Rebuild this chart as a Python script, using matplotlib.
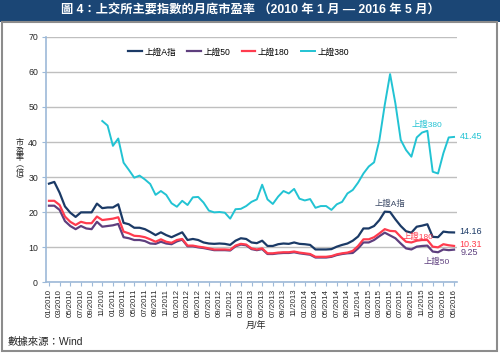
import numpy as np
import pandas as pd
import matplotlib
matplotlib.use('Agg')
import matplotlib.pyplot as plt
from matplotlib.patches import Rectangle

plt.rcParams['font.family'] = ['Liberation Sans', 'Noto Sans CJK TC', 'DejaVu Sans']

# --- DATA ---
months = pd.date_range('2010-01-01', '2016-05-01', freq='MS')
month_labels = list(months.strftime('%m/%Y'))

sh_a = [28.1, 28.6, 25.5, 21.6, 19.8, 18.6, 19.9, 19.9, 19.9, 22.4,
        21.1, 21.3, 21.3, 22.2, 16.9, 16.5, 15.5, 15.5, 15.1, 14.3,
        13.4, 14.2, 13.4, 12.8, 13.5, 14.2, 12.0, 12.3, 12.0, 11.3,
        11.0, 10.9, 11.0, 10.9, 10.6, 11.8, 12.5, 12.3, 11.3, 11.1,
        11.8, 10.3, 10.3, 10.8, 11.0, 10.9, 11.3, 10.9, 10.8, 10.6,
        9.3, 9.3, 9.3, 9.4, 10.1, 10.6, 11.0, 11.8, 13.0, 15.3,
        15.3, 16.0, 17.7, 20.1, 20.0, 17.9, 16.0, 14.5, 14.1, 15.8,
        16.1, 16.5, 12.9, 12.8, 14.4, 14.2, 14.16]

sh_50 = [21.8, 21.8, 20.6, 17.4, 16.0, 15.1, 16.0, 15.3, 15.1, 17.2,
         15.8, 16.0, 16.2, 16.6, 12.8, 12.5, 12.0, 12.0, 11.7, 11.0,
         10.9, 11.5, 11.0, 10.8, 11.6, 12.1, 10.2, 10.2, 9.9, 9.7,
         9.4, 9.1, 9.1, 9.1, 9.0, 10.2, 10.7, 10.5, 9.4, 9.1,
         9.4, 8.0, 8.0, 8.2, 8.3, 8.3, 8.5, 8.2, 8.0, 7.8,
         7.0, 7.0, 7.0, 7.2, 7.7, 8.0, 8.2, 8.3, 9.6, 11.3,
         11.3, 12.0, 13.1, 14.1, 13.3, 12.5, 11.0, 9.6, 9.3, 10.1,
         10.3, 10.4, 8.7, 8.5, 9.3, 9.1, 9.25]

sh_180 = [23.2, 23.2, 22.0, 18.7, 17.2, 16.3, 17.2, 16.8, 16.8, 18.7,
          17.7, 17.9, 18.1, 18.5, 14.4, 13.9, 13.2, 13.1, 12.8, 12.2,
          11.5, 12.2, 11.5, 11.2, 12.0, 12.3, 10.4, 10.4, 10.1, 9.9,
          9.6, 9.3, 9.3, 9.3, 9.2, 10.4, 10.9, 10.7, 9.6, 9.3,
          9.6, 8.2, 8.2, 8.4, 8.5, 8.5, 8.7, 8.4, 8.2, 8.0,
          7.2, 7.2, 7.2, 7.4, 7.9, 8.2, 8.4, 8.9, 10.3, 12.2,
          12.2, 12.8, 13.9, 15.1, 14.6, 14.5, 12.9, 11.5, 11.3, 11.8,
          12.0, 12.0, 10.1, 9.9, 10.8, 10.5, 10.31]

# 上證380 starts 11/2010
sh_380 = [46.0, 44.7, 38.9, 41.0, 34.1, 32.0, 29.8, 30.4, 29.3, 28.0,
          24.9, 26.0, 24.9, 22.5, 21.5, 23.2, 22.0, 24.2, 24.3, 22.7,
          20.4, 19.9, 20.0, 19.8, 18.1, 20.8, 20.9, 21.7, 22.9, 23.6,
          27.8, 23.6, 22.3, 24.4, 26.0, 25.3, 26.6, 23.8, 23.3, 23.7,
          21.2, 21.7, 21.7, 20.6, 22.2, 22.9, 25.3, 26.3, 28.4, 31.0,
          33.0, 34.2, 40.6, 50.6, 59.4, 51.0, 40.6, 37.7, 35.8, 41.3,
          42.7, 43.2, 31.5, 31.0, 36.8, 41.3, 41.45]

names = ['上證A指', '上證50', '上證180', '上證380']
colors = ['#1B3A66', '#5E3F7E', '#FF3B4E', '#22C3D3']

x = np.arange(len(month_labels))
x380 = x[len(x) - len(sh_380):]

# --- PLOT ---
fig = plt.figure(figsize=(5, 3.53), dpi=100)

# title banner and frame
fig.patches.append(Rectangle((0, 1 - 22 / 353), 1, 22 / 353, transform=fig.transFigure,
                             facecolor='#1B4675', edgecolor='none', zorder=0))
fig.patches.append(Rectangle((0.004, 0.006), 0.99, 1 - 22 / 353 - 0.006, transform=fig.transFigure,
                             facecolor='none', edgecolor='#8C8C8C', lw=1.5, zorder=0))
fig.text(0.5, 1 - 11 / 353, '圖 4：上交所主要指數的月底市盈率 （2010 年 1 月 — 2016 年 5 月）',
         color='white', fontsize=8.8, fontweight='bold', ha='center', va='center')

ax = fig.add_axes([0.0926, 0.2011, 0.8208, 0.6941])
ax.plot(x, sh_a, color=colors[0], lw=1.6, label=names[0])
ax.plot(x, sh_50, color=colors[1], lw=1.6, label=names[1])
ax.plot(x, sh_180, color=colors[2], lw=1.6, label=names[2])
ax.plot(x380, sh_380, color=colors[3], lw=1.4, label=names[3])

ax.set_xlim(-0.5, len(x) - 0.5)
ax.set_ylim(0, 70)
ax.set_yticks(range(0, 71, 10))
ax.set_xticks(x[::2])
ax.set_xticklabels(month_labels[::2], rotation=90, fontsize=5.6, color='#262626')
ax.tick_params(axis='y', labelsize=6.3, length=3, color='#9DB9D8', pad=3, labelcolor='#262626')
ax.tick_params(axis='x', length=3, color='#9DB9D8', pad=2)
ax.grid(axis='y', color='#BFBFBF', lw=1)
ax.set_axisbelow(True)
for s in ['top', 'right']:
    ax.spines[s].set_visible(False)
for s in ['left', 'bottom']:
    ax.spines[s].set_color('#9DB9D8')
    ax.spines[s].set_linewidth(1.2)

ax.legend(loc='center', bbox_to_anchor=(0.468, 0.939), ncol=4, frameon=False,
          fontsize=6.2, handlelength=1.6, handletextpad=0.3, columnspacing=1.3)

# end labels
ax.text(70.9, 44.9, '上證380', color=colors[3], fontsize=6, ha='center', va='center')
ax.text(77.0, sh_380[-1], f'{sh_380[-1]:.2f}', color=colors[3], fontsize=6.5, va='center', clip_on=False)
ax.text(63.9, 22.3, '上證A指', color='#3C4A66', fontsize=6, ha='center', va='center')
ax.text(77.0, 14.3, f'{sh_a[-1]:.2f}', color=colors[0], fontsize=6.5, va='center', clip_on=False)
ax.text(69.2, 12.9, '上證180', color=colors[2], fontsize=6, ha='center', va='center')
ax.text(77.0, 10.7, f'{sh_180[-1]:.2f}', color=colors[2], fontsize=6.5, va='center', clip_on=False)
ax.text(77.3, 8.5, f'{sh_50[-1]:.2f}', color=colors[1], fontsize=6.5, va='center', clip_on=False)
ax.text(72.7, 5.7, '上證50', color=colors[1], fontsize=6, ha='center', va='center')

# stacked y label, one character per line
ylab = ['市', '盈', '率', '︵', '倍', '︶']
for k, ch in enumerate(ylab):
    fig.text(20 / 500, 1 - (143 + 7.5 * k) / 353, ch, fontsize=5.8, ha='center', va='center',
             color='#262626')
fig.text(256 / 500, 1 - 325 / 353, '月/年', fontsize=6.5, ha='center', va='center', color='#262626')
fig.text(8 / 500, 1 - 342 / 353, '數據來源：Wind', fontsize=7.5, ha='left', va='center', color='#262626')

fig.savefig('out.png', dpi=100)
